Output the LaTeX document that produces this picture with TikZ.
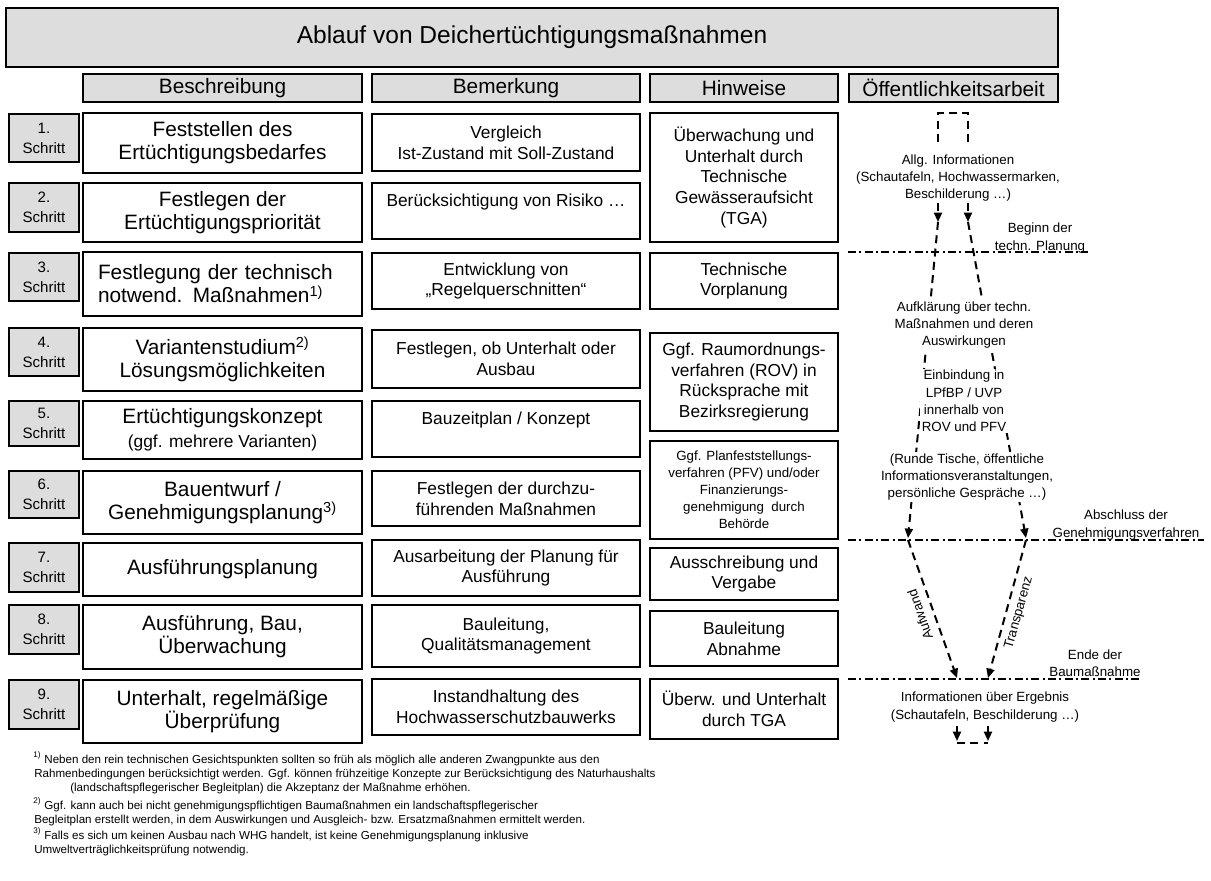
\documentclass[tikz,border=0pt]{standalone}
\usepackage{fontspec}
\setmainfont{Liberation Sans}
\usetikzlibrary{arrows.meta}
\definecolor{boxgray}{HTML}{DDDDDD}
\newcommand\mkbox[7]{\node[#6, minimum width={(#4-#2)*0.75pt}, minimum height={(#5-#3)*0.75pt}] (#1) at ({(#2+#4)/2},{(#3+#5)/2}) {#7};}
\begin{document}
\begin{tikzpicture}[x=0.75pt,y=-0.75pt,
  base/.style={draw=black, line width=0.8pt, align=center, inner sep=0pt},
  graybox/.style={base, fill=boxgray},
  whitebox/.style={base, fill=white},
  titlef/.style={font=\fontsize{18.4}{22}\selectfont},
  headf/.style={font=\fontsize{15.6}{18}\selectfont},
  stepf/.style={font=\fontsize{11.3}{15}\selectfont},
  descf/.style={font=\fontsize{15.6}{17.3}\selectfont},
  remf/.style={font=\fontsize{13}{15.6}\selectfont},
  smallf/.style={font=\fontsize{10}{12.75}\selectfont},
  pubf/.style={font=\fontsize{10}{13}\selectfont, align=center, inner sep=1pt},
  flow/.style={line width=1.5pt, dash pattern=on 6pt off 4pt},
  tip/.style={-{Triangle[length=7pt,width=6pt]}},
  mile/.style={line width=1.1pt, dash pattern=on 6pt off 2.5pt on 1.5pt off 2.5pt},
  note/.style={font=\fontsize{8.7}{11}\selectfont, anchor=base west, inner sep=0pt}
]
\useasboundingbox (0,0) rectangle (1211,881);

% title and headers
\mkbox{title}{6}{8}{1058}{67}{graybox,titlef}{Ablauf von Deichertüchtigungsmaßnahmen}
\mkbox{hB}{83}{74}{362}{102}{graybox,headf}{Beschreibung}
\mkbox{hR}{372}{74}{640}{102}{graybox,headf}{Bemerkung}
\mkbox{hH}{650}{74}{838}{102}{graybox,headf}{Hinweise}
\mkbox{hO}{849}{74}{1058}{102}{graybox,headf}{Öffentlichkeitsarbeit}

% steps
\mkbox{s1}{9}{114}{79}{162}{graybox,stepf}{1.\\Schritt}
\mkbox{s2}{9}{183}{79}{232}{graybox,stepf}{2.\\Schritt}
\mkbox{s3}{9}{253}{79}{301}{graybox,stepf}{3.\\Schritt}
\mkbox{s4}{9}{328}{79}{376}{graybox,stepf}{4.\\Schritt}
\mkbox{s5}{9}{401}{79}{446}{graybox,stepf}{5.\\Schritt}
\mkbox{s6}{9}{471}{79}{518}{graybox,stepf}{6.\\Schritt}
\mkbox{s7}{9}{543}{79}{592}{graybox,stepf}{7.\\Schritt}
\mkbox{s8}{9}{605}{79}{654}{graybox,stepf}{8.\\Schritt}
\mkbox{s9}{9}{680}{79}{729}{graybox,stepf}{9.\\Schritt}

% Beschreibung
\mkbox{d1}{83}{113}{362}{173}{whitebox,descf}{Feststellen des\\Ertüchtigungsbedarfes}
\mkbox{d2}{83}{183}{362}{242}{whitebox,descf}{Festlegen der\\Ertüchtigungspriorität}
\mkbox{d3}{83}{252}{362}{316}{whitebox,descf,align=left,text width={249*0.75pt}}{Festlegung der technisch\\notwend. Maßnahmen\textsuperscript{1)}}
\mkbox{d4}{83}{328}{362}{391}{whitebox,descf}{Variantenstudium\textsuperscript{2)}\\Lösungsmöglichkeiten}
\mkbox{d5}{83}{401}{362}{459}{whitebox,descf}{Ertüchtigungskonzept\\[1pt]{\fontsize{13}{15}\selectfont (ggf. mehrere Varianten)}}
\mkbox{d6}{83}{471}{362}{534}{whitebox,descf}{Bauentwurf /\\Genehmigungsplanung\textsuperscript{3)}}
\mkbox{d7}{83}{543}{362}{596}{whitebox,descf}{Ausführungsplanung}
\mkbox{d8}{83}{605}{362}{669}{whitebox,descf}{Ausführung, Bau,\\Überwachung}
\mkbox{d9}{83}{680}{362}{743}{whitebox,descf}{Unterhalt, regelmäßige\\Überprüfung}

% Bemerkung
\mkbox{r1}{372}{114}{640}{171}{whitebox,remf}{Vergleich\\Ist-Zustand mit Soll-Zustand}
\mkbox{r2}{372}{183}{640}{239}{whitebox,remf}{Berücksichtigung von Risiko …\\\mbox{}}
\mkbox{r3}{372}{253}{640}{309}{whitebox,remf}{Entwicklung von\\„Regelquerschnitten“}
\mkbox{r4}{372}{330}{640}{388}{whitebox,remf}{Festlegen, ob Unterhalt oder\\Ausbau}
\mkbox{r5}{372}{401}{640}{457}{whitebox,remf}{Bauzeitplan / Konzept\\\mbox{}}
\mkbox{r6}{372}{471}{640}{526}{whitebox,remf}{Festlegen der durchzu-\\führenden Maßnahmen}
\mkbox{r7}{372}{540}{640}{596}{whitebox,remf}{Ausarbeitung der Planung für\\Ausführung}
\mkbox{r8}{372}{605}{640}{667}{whitebox,remf}{Bauleitung,\\Qualitätsmanagement}
\mkbox{r9}{372}{679}{640}{735}{whitebox,remf}{Instandhaltung des\\Hochwasserschutzbauwerks}

% Hinweise
\mkbox{h1}{650}{113}{838}{242}{whitebox,remf}{Überwachung und\\Unterhalt durch\\Technische\\Gewässeraufsicht\\(TGA)}
\mkbox{h2}{650}{253}{838}{309}{whitebox,remf}{Technische\\Vorplanung}
\mkbox{h3}{650}{333}{838}{431}{whitebox,remf}{Ggf. Raumordnungs-\\verfahren (ROV) in\\Rücksprache mit\\Bezirksregierung}
\mkbox{h4}{650}{441}{838}{539}{whitebox,smallf}{Ggf. Planfeststellungs-\\verfahren (PFV) und/oder\\Finanzierungs-\\genehmigung\ \ durch\\Behörde}
\mkbox{h5}{650}{548}{838}{600}{whitebox,remf}{Ausschreibung und\\Vergabe}
\mkbox{h6}{650}{611}{838}{666}{whitebox,remf}{Bauleitung\\Abnahme}
\mkbox{h7}{650}{679}{838}{739}{whitebox,remf}{Überw. und Unterhalt\\durch TGA}

% Öffentlichkeitsarbeit
\coordinate (tl) at (938,142); \coordinate (tlc) at (938,113);
\coordinate (trc) at (968,113); \coordinate (tr) at (968,142);
\draw[flow] (tl) -- (tlc) -- (trc) -- (tr);
\node[pubf] (allg) at (958,178) {Allg. Informationen\\(Schautafeln, Hochwassermarken,\\Beschilderung …)};

\coordinate (a1s) at (938,203); \coordinate (a1e) at (938,222);
\coordinate (a2s) at (968,203); \coordinate (a2e) at (968,222);
\coordinate (l1e) at (908,538); \coordinate (l2e) at (1026,538);
\draw[flow,tip] (a1s) -- (a1e);
\draw[flow,tip] (a2s) -- (a2e);
\draw[flow,tip] (a1e) -- (l1e);
\draw[flow,tip] (a2e) -- (l2e);

\node[pubf, fill=white] (aufk) at (964,325) {Aufklärung über techn.\\Maßnahmen und deren\\Auswirkungen};
\node[pubf, fill=white] (einb) at (964,401) {Einbindung in\\LPfBP / UVP\\innerhalb von\\ROV und PFV};
\node[pubf, fill=white] (runde) at (967,477) {(Runde Tische, öffentliche\\Informationsveranstaltungen,\\persönliche Gespräche …)};

% milestones
\coordinate (m1a) at (848,252); \coordinate (m1b) at (1088,252);
\coordinate (m2a) at (848,540); \coordinate (m2b) at (1204,540);
\coordinate (m3a) at (848,679); \coordinate (m3b) at (1142,679);
\draw[mile] (m1a) -- (m1b);
\draw[mile] (m2a) -- (m2b);
\draw[mile] (m3a) -- (m3b);
\node[pubf] (beg) at (1040,238) {Beginn der\\techn. Planung};
\node[pubf] (absch) at (1126,525) {Abschluss der\\Genehmigungsverfahren};
\node[pubf] (ende) at (1095,663) {Ende der\\Baumaßnahme};

\coordinate (v1s) at (908,540); \coordinate (v1e) at (957,678);
\coordinate (v2s) at (1026,540); \coordinate (v2e) at (988,678);
\draw[flow,tip] (v1s) -- (v1e);
\draw[flow,tip] (v2s) -- (v2e);
\node[pubf, rotate=109.3] (aufw) at (920,615) {Aufwand};
\node[pubf, rotate=74.3] (transp) at (1019,613) {Transparenz};

\node[pubf] (erg) at (985,707) {Informationen über Ergebnis\\(Schautafeln, Beschilderung …)};
\coordinate (b1s) at (957,726); \coordinate (b1e) at (957,741);
\coordinate (b2s) at (988,726); \coordinate (b2e) at (988,741);
\draw[flow,tip] (b1s) -- (b1e);
\draw[flow,tip] (b2s) -- (b2e);
\draw[flow] ([yshift=-1.5]b1e) -- ([yshift=-1.5]b2e);

% footnotes
\node[note] (fn1a) at (33,763) {\textsuperscript{1)} Neben den rein technischen Gesichtspunkten sollten so früh als möglich alle anderen Zwangpunkte aus den};
\node[note] (fn1b) at (34,777) {Rahmenbedingungen berücksichtigt werden. Ggf. können frühzeitige Konzepte zur Berücksichtigung des Naturhaushalts};
\node[note] (fn1c) at (70,791) {(landschaftspflegerischer Begleitplan) die Akzeptanz der Maßnahme erhöhen.};
\node[note] (fn2a) at (33,809) {\textsuperscript{2)} Ggf. kann auch bei nicht genehmigungspflichtigen Baumaßnahmen ein landschaftspflegerischer};
\node[note] (fn2b) at (34,823) {Begleitplan erstellt werden, in dem Auswirkungen und Ausgleich- bzw. Ersatzmaßnahmen ermittelt werden.};
\node[note] (fn3a) at (33,839) {\textsuperscript{3)} Falls es sich um keinen Ausbau nach WHG handelt, ist keine Genehmigungsplanung inklusive};
\node[note] (fn3b) at (34,853) {Umweltverträglichkeitsprüfung notwendig.};
\end{tikzpicture}
\end{document}
